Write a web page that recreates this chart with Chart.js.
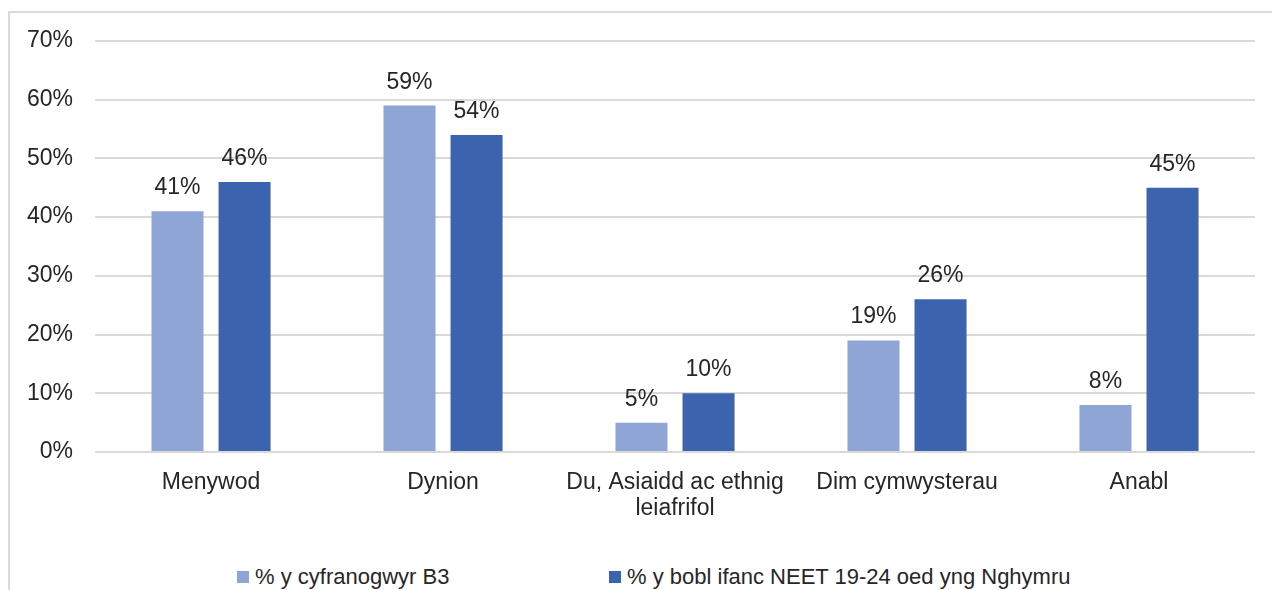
<!DOCTYPE html>
<html>
<head>
<meta charset="utf-8">
<script src="https://cdn.jsdelivr.net/npm/chart.js@4"></script>
<style>
  html, body { margin: 0; padding: 0; background: #fff; overflow: hidden; }
  body { width: 1272px; height: 590px; position: relative; font-family: "Liberation Sans", Arial, sans-serif; }
  #frame { position: absolute; left: 8px; top: 11px; width: 1300px; height: 620px; border: 2px solid #d9d9d9; box-sizing: border-box; }
  #wrap { position: absolute; left: 0; top: 0; width: 1272px; height: 555px; }
  #legend { position: absolute; left: 0; top: 564px; width: 1272px; height: 26px; font-size: 22px; color: #262626; }
  .item { position: absolute; top: 0; display: flex; align-items: center; white-space: nowrap; }
  .box { width: 12px; height: 12px; margin-right: 6px; }
</style>
</head>
<body>
<div id="frame"></div>
<div id="wrap"><canvas id="grafico"></canvas></div>
<div id="legend"></div>
<script>
const categorias = [["Menywod"], ["Dynion"], ["Du, Asiaidd ac ethnig", "leiafrifol"], ["Dim cymwysterau"], ["Anabl"]];
const cyfranogwyrB3 = [41, 59, 5, 19, 8];
const neetCymru = [46, 54, 10, 26, 45];
const nomes = ["% y cyfranogwyr B3", "% y bobl ifanc NEET 19-24 oed yng Nghymru"];
const cores = ["#8fa5d5", "#3c64ae"];
const posLegenda = [237, 609];

const fonte = { family: "'Liberation Sans', Arial, sans-serif", size: 23 };

const rotulos = {
    id: "rotulos",
    afterDatasetsDraw(chart) {
        const ctx = chart.ctx;
        ctx.save();
        ctx.font = "23px 'Liberation Sans', Arial, sans-serif";
        ctx.fillStyle = "#262626";
        ctx.textAlign = "center";
        ctx.textBaseline = "alphabetic";
        chart.data.datasets.forEach((ds, i) => {
            chart.getDatasetMeta(i).data.forEach((bar, j) => {
                ctx.fillText(ds.data[j] + "%", bar.x, bar.y - 17);
            });
        });
        ctx.restore();
    }
};

new Chart(document.getElementById("grafico"), {
    type: "bar",
    data: {
        labels: categorias,
        datasets: [
            { label: nomes[0], data: cyfranogwyrB3, backgroundColor: cores[0], categoryPercentage: 0.578, barPercentage: 0.776 },
            { label: nomes[1], data: neetCymru, backgroundColor: cores[1], categoryPercentage: 0.578, barPercentage: 0.776 }
        ]
    },
    options: {
        responsive: true,
        maintainAspectRatio: false,
        animation: false,
        layout: { padding: { left: 5, right: 17, top: 41, bottom: 15 } },
        plugins: { legend: { display: false }, tooltip: { enabled: false } },
        scales: {
            x: {
                grid: { display: false, drawTicks: false },
                border: { display: false },
                ticks: { color: "#262626", font: { ...fonte, lineHeight: 1.13 }, padding: 18, maxRotation: 0 }
            },
            y: {
                min: 0,
                max: 70,
                grid: { color: "#d9d9d9", lineWidth: 2, drawTicks: false },
                border: { display: false },
                ticks: { stepSize: 10, color: "#262626", font: fonte, padding: 22, callback: v => v + "%" }
            }
        }
    },
    plugins: [rotulos]
});

const legenda = document.getElementById("legend");
nomes.forEach((n, i) => {
    const item = document.createElement("div");
    item.className = "item";
    item.style.left = posLegenda[i] + "px";
    item.innerHTML = '<span class="box" style="background:' + cores[i] + '"></span><span>' + n + '</span>';
    legenda.appendChild(item);
});
</script>
</body>
</html>
